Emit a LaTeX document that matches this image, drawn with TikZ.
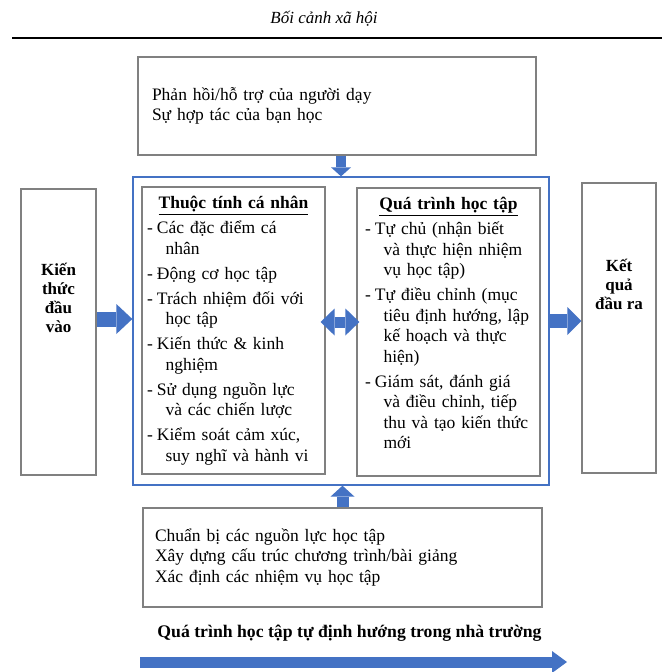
\documentclass[tikz,border=0pt]{standalone}
\usepackage{fontspec}
\setmainfont{Liberation Serif}
\usetikzlibrary{arrows.meta,positioning}
\definecolor{boxgray}{RGB}{128,128,128}
\definecolor{blockblue}{RGB}{68,114,196}
\newcommand{\litem}[1]{\par\vspace{4.5pt}\hangindent=18.5pt\hangafter=1\noindent\makebox[10pt][l]{-}#1}

\begin{document}
\begin{tikzpicture}[x=1pt,y=-1pt,
    box/.style={draw=boxgray, line width=1.2pt, inner sep=0pt},
    frame/.style={draw=blockblue, line width=1.3pt, inner sep=0pt},
    lbl/.style={font=\fontsize{17}{19}\selectfont\bfseries, align=center},
    txt/.style={font=\fontsize{17.5}{20.5}\selectfont, align=left, inner sep=0pt},
    blk/.style n args={3}{blockblue, line width=#1, -{Triangle[width=#2,length=#3,line width=0pt]}},
    dblk/.style n args={3}{blockblue, line width=#1, {Triangle[width=#2,length=#3,line width=0pt]}-{Triangle[width=#2,length=#3,line width=0pt]}}]

\useasboundingbox (0,0) rectangle (662,672);

\node [font=\fontsize{17}{20}\selectfont\itshape] (ctx) at (324,19) {Bối cảnh xã hội};
\coordinate (ruleL) at (12,38);
\coordinate (ruleR) at (662,38);
\draw [line width=1.5pt] (ruleL) -- (ruleR);

\node [box, txt, minimum width=398pt, minimum height=98pt, text width=370pt, inner xsep=14pt] (top) at (337,106)
  {Phản hồi/hỗ trợ của người dạy\\Sự hợp tác của bạn học};
\node [box, txt, minimum width=399pt, minimum height=99pt, text width=375pt, inner xsep=12pt] (bot) at (342.5,557.5)
  {Chuẩn bị các nguồn lực học tập\\Xây dựng cấu trúc chương trình/bài giảng\\Xác định các nhiệm vụ học tập};

\node [frame, minimum width=416pt, minimum height=308pt] (outer) at (341,331){};
\node [box, minimum width=183pt, minimum height=287pt] (inL) at (233.5,330.5){};
\node [box, minimum width=183pt, minimum height=288pt] (inR) at (448.5,332){};
\node [box, minimum width=75pt, minimum height=286pt] (kin) at (58.5,332){};
\node [box, minimum width=74pt, minimum height=290pt] (kout) at (619,328){};

\node [lbl] (kintxt) at (58.5,298) {Kiến\\thức\\đầu\\vào};
\node [lbl] (kouttxt) at (619,284) {Kết\\quả\\đầu ra};

\node [txt, text width=173pt, below=10pt of inL.north] (inLtxt) {%
  {\centering\underline{\textbf{Thuộc tính cá nhân}}\par}
  \litem{Các đặc điểm cá\newline nhân}
  \litem{Động cơ học tập}
  \litem{Trách nhiệm đối với\newline học tập}
  \litem{Kiến thức \& kinh\newline nghiệm}
  \litem{Sử dụng nguồn lực\newline và các chiến lược}
  \litem{Kiểm soát cảm xúc,\newline suy nghĩ và hành vi}\par};
\node [txt, text width=167pt, below=10pt of inR.north] (inRtxt) {%
  {\centering\underline{\textbf{Quá trình học tập}}\par}
  \litem{Tự chủ (nhận biết\newline và thực hiện nhiệm\newline vụ học tập)}
  \litem{Tự điều chỉnh (mục\newline tiêu định hướng, lập\newline kế hoạch và thực\newline hiện)}
  \litem{Giám sát, đánh giá\newline và điều chỉnh, tiếp\newline thu và tạo kiến thức\newline mới}\par};

\node [lbl, font=\fontsize{17.7}{20}\selectfont\bfseries] (flowtxt) at (349.5,633) {Quá trình học tập tự định hướng trong nhà trường};
\coordinate (flowL) at (140,662);
\coordinate (flowR) at (567,662);

\draw [blk={10pt}{20pt}{9pt}] ([xshift=4pt]top.south) -- ([xshift=4pt]top.south |- outer.north);
\draw [blk={12pt}{24pt}{11pt}] (bot.north) -- (bot.north |- outer.south);
\draw [blk={15pt}{30pt}{16pt}] ([yshift=13pt]kin.east) -- ([yshift=13pt]kin.east -| outer.west);
\draw [blk={14pt}{28pt}{14pt}] ([yshift=10pt]outer.east) -- ([yshift=10pt]outer.east -| kout.west);
\draw [dblk={11pt}{27pt}{14pt}, shorten <=-5pt, shorten >=-3pt] ([yshift=8.5pt]inL.east) -- ([yshift=8.5pt]inL.east -| inR.west);
\draw [blk={11pt}{22pt}{15pt}] (flowL) -- (flowR);
\end{tikzpicture}
\end{document}
